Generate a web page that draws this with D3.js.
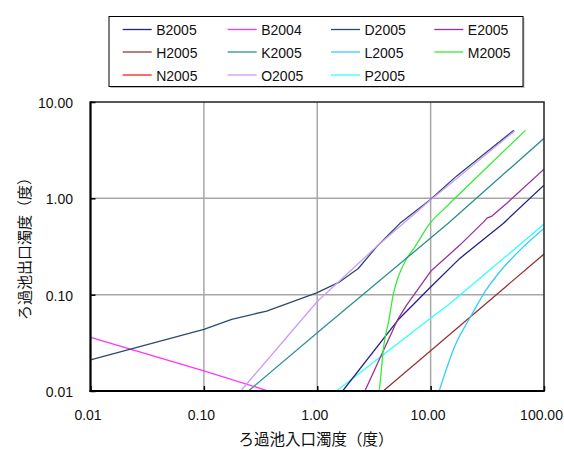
<!DOCTYPE html>
<html><head><meta charset="utf-8">
<script src="https://cdn.jsdelivr.net/npm/d3@7"></script>
<style>body{margin:0;background:#fff}svg{display:block}</style>
</head><body>
<svg id="c" width="564" height="449"></svg>
<script>
// ---- data (x: ろ過池入口濁度, y: ろ過池出口濁度) ----
const seriesNames = ["B2005","B2004","D2005","E2005","H2005","K2005","L2005","M2005","N2005","O2005","P2005"];
const seriesColors = ["#22228A","#FF33FF","#2E4A6B","#993399","#993333","#2A9090","#33CCFF","#33EE33","#FF1A1A","#CC99FF","#33FFFF"];
const xTicks = [0.01,0.1,1,10,100];
const yTicks = [0.01,0.1,1,10];
const xTickLabels = ["0.01","0.10","1.00","10.00","100.00"];
const yTickLabels = ["0.01","0.10","1.00","10.00"];

const B2005 = [[1.675,0.01],[5.15,0.0545],[10.06,0.121],[18.1,0.238],[43.7,0.549],[100,1.37]];
const B2004 = [[0.01,0.036],[0.1,0.0162],[0.37,0.01]];
const D2005 = [[0.01,0.021],[0.1,0.0437],[0.176,0.0555],[0.358,0.0676],[1.0,0.105],[1.58,0.136],[2.3,0.187],[3.34,0.314],[4.53,0.45],[5.36,0.55],[9.86,0.96],[16.9,1.70],[31.2,3.03],[54.3,5.1]];
const E2005 = [[2.63,0.01],[5.15,0.0558],[6.14,0.078],[10.06,0.176],[18.1,0.327],[29.5,0.573],[31.4,0.623],[34.7,0.654],[46.8,0.885],[100,2.01]];
const H2005 = [[3.82,0.01],[10,0.0262],[100,0.264]];
const K2005 = [[0.247,0.01],[1.17,0.047],[14.3,0.55],[100,4.2]];
const L2005 = [[11.9,0.01],[16.5,0.030],[22.5,0.059],[30.1,0.107],[40.8,0.173],[61.3,0.29],[100,0.487]];
const M2005 = [[3.52,0.01],[3.68,0.0165],[3.82,0.0266],[4.04,0.040],[4.23,0.0504],[4.70,0.103],[5.18,0.153],[6.05,0.229],[7.27,0.314],[9.86,0.549],[12.8,0.754],[15.8,0.96],[68.8,5.1]];
const N2005 = [];
const O2005 = [[0.211,0.01],[1.0,0.085],[3.45,0.327],[9.86,0.95],[55,5.0]];
const P2005 = [[1.476,0.01],[9.52,0.0545],[14.3,0.078],[100,0.54]];
const seriesData = [B2005,B2004,D2005,E2005,H2005,K2005,L2005,M2005,N2005,O2005,P2005];
const smoothSeries = ["L2005","M2005"];

// ---- drawing ----
const svg = d3.select("#c");
const L = 90.5, R = 544, T = 102, B = 391;
const x = d3.scaleLog().domain([0.01,100]).range([L,R]);
const y = d3.scaleLog().domain([0.01,10]).range([B,T]);
const fontNum = "Arial, 'Liberation Sans', sans-serif";
const fontJP = "'Noto Sans CJK JP', sans-serif";

// grid
svg.append("g").selectAll("line").data(xTicks.slice(1,-1)).join("line")
  .attr("x1",d=>x(d)).attr("x2",d=>x(d)).attr("y1",T).attr("y2",B)
  .attr("stroke","#A8A8A8").attr("stroke-width",1.5);
svg.append("g").selectAll("line").data(yTicks.slice(1,-1)).join("line")
  .attr("y1",d=>y(d)).attr("y2",d=>y(d)).attr("x1",L).attr("x2",R)
  .attr("stroke","#A8A8A8").attr("stroke-width",1.5);

// lines
svg.append("clipPath").attr("id","clip").append("rect")
  .attr("x",L).attr("y",T).attr("width",R-L).attr("height",B-T);
const lineLin = d3.line().x(d=>x(d[0])).y(d=>y(d[1]));
const lineSmooth = d3.line().x(d=>x(d[0])).y(d=>y(d[1])).curve(d3.curveMonotoneX);
const drawOrder = [4,6,10,0,3,7,5,1,8,2,9];
const gl = svg.append("g").attr("clip-path","url(#clip)");
drawOrder.forEach(i=>{
  if(!seriesData[i].length) return;
  const gen = smoothSeries.includes(seriesNames[i]) ? lineSmooth : lineLin;
  gl.append("path").attr("d",gen(seriesData[i])).attr("fill","none")
    .attr("stroke",seriesColors[i]).attr("stroke-width",1.3).attr("stroke-linejoin","round");
});

// frame
svg.append("rect").attr("x",L).attr("y",T).attr("width",R-L).attr("height",B-T)
  .attr("fill","none").attr("stroke","#222").attr("stroke-width",1.5);
svg.append("line").attr("x1",L).attr("x2",L).attr("y1",T-0.5).attr("y2",B+1).attr("stroke","#000").attr("stroke-width",2);
svg.append("line").attr("x1",L-1).attr("x2",R+0.5).attr("y1",B).attr("y2",B).attr("stroke","#000").attr("stroke-width",2);

// axes (inner ticks)
const xAxis = d3.axisBottom(x).tickValues(xTicks).tickSize(-5).tickSizeOuter(0).tickFormat((d,i)=>xTickLabels[i]);
const gx = svg.append("g").attr("transform",`translate(0,${B})`).call(xAxis);
gx.select(".domain").remove();
gx.selectAll("line").attr("stroke","#000").attr("stroke-width",1.5);
gx.selectAll("text").attr("font-family",fontNum).attr("font-size",14).attr("fill","#111")
  .attr("dy",null).attr("y",28.5).attr("x",-3);

const yAxis = d3.axisLeft(y).tickValues(yTicks).tickSize(-5).tickSizeOuter(0).tickFormat((d,i)=>yTickLabels[i]);
const gy = svg.append("g").attr("transform",`translate(${L},0)`).call(yAxis);
gy.select(".domain").remove();
gy.selectAll("line").attr("stroke","#000").attr("stroke-width",1.5);
gy.selectAll("text").attr("font-family",fontNum).attr("font-size",14).attr("fill","#111")
  .attr("x",73-L).attr("dy",null).attr("y",5.5).attr("text-anchor","end");

// axis titles
svg.append("text").attr("x",316).attr("y",438).attr("text-anchor","middle").attr("dominant-baseline","central")
  .attr("font-family",fontJP).attr("font-size",15.5).attr("fill","#111").text("ろ過池入口濁度（度）");
svg.append("text").attr("transform","translate(23,245) rotate(-90)").attr("text-anchor","middle").attr("dominant-baseline","central")
  .attr("font-family",fontJP).attr("font-size",15).attr("fill","#111").text("ろ過池出口濁度（度）");

// legend
const lg = svg.append("g");
lg.append("rect").attr("x",110.5).attr("y",18).attr("width",414).attr("height",70).attr("fill","#bbb");
lg.append("rect").attr("x",109).attr("y",16.5).attr("width",414).attr("height",70)
  .attr("fill","#fff").attr("stroke","#000").attr("stroke-width",1);
const colX = [122.7,227.7,331,434.3];
const rowY = [29.5,52,75];
seriesNames.forEach((n,i)=>{
  const cx = colX[i%4], cy = rowY[Math.floor(i/4)];
  lg.append("line").attr("x1",cx).attr("x2",cx+29).attr("y1",cy).attr("y2",cy)
    .attr("stroke",seriesColors[i]).attr("stroke-width",1.3);
  lg.append("text").attr("x",cx+33.5).attr("y",cy+5.5).attr("font-family",fontNum)
    .attr("font-size",14).attr("fill","#111").text(n);
});
</script>
</body></html>
